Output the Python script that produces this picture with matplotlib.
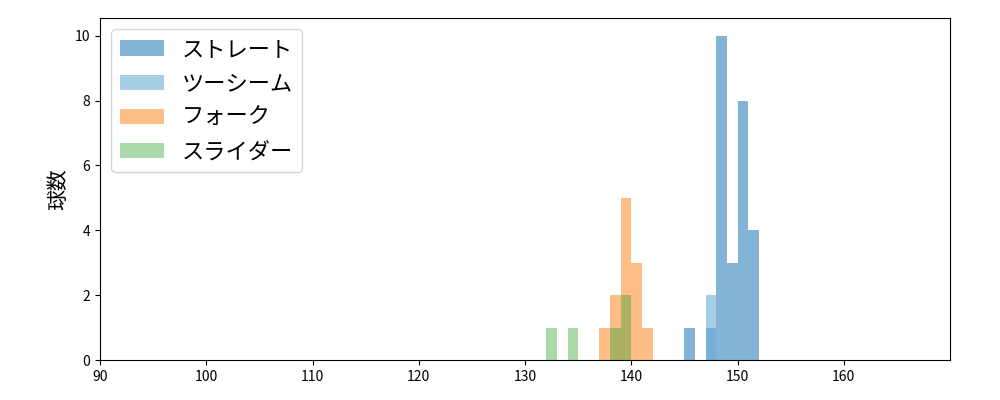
import matplotlib
matplotlib.use("Agg")
import matplotlib.pyplot as plt

plt.rcParams['font.family'] = ['Noto Sans CJK JP', 'DejaVu Sans']

labels = ["ストレート", "ツーシーム", "フォーク", "スライダー"]
colors = ["#1f77b4", "#6baed6", "#ff7f0e", "#2ca02c"]
alphas = [0.55, 0.6, 0.5, 0.4]
bin_lefts = [
    [145, 147, 148, 149, 150, 151],
    [147],
    [137, 138, 139, 140, 141],
    [132, 134, 138, 139],
]
counts = [
    [1, 1, 10, 3, 8, 4],
    [2],
    [1, 2, 5, 3, 1],
    [1, 1, 1, 2],
]

fig = plt.figure(figsize=(10, 4), dpi=100)
ax = fig.add_axes([0.1, 0.1, 0.85, 0.855])
for lab, c, a, l, h in zip(labels, colors, alphas, bin_lefts, counts):
    ax.bar(l, h, width=1.0, align='edge', color=c, alpha=a, label=lab, linewidth=0)
ax.set_xlim(90, 170)
ax.set_ylim(0, 10.55)
ax.set_xticks(range(90, 170, 10))
ax.set_yticks(range(0, 11, 2))
ax.set_ylabel("球数", fontsize=15)
ax.legend(loc='upper left', fontsize=16)
fig.savefig("out.png")
